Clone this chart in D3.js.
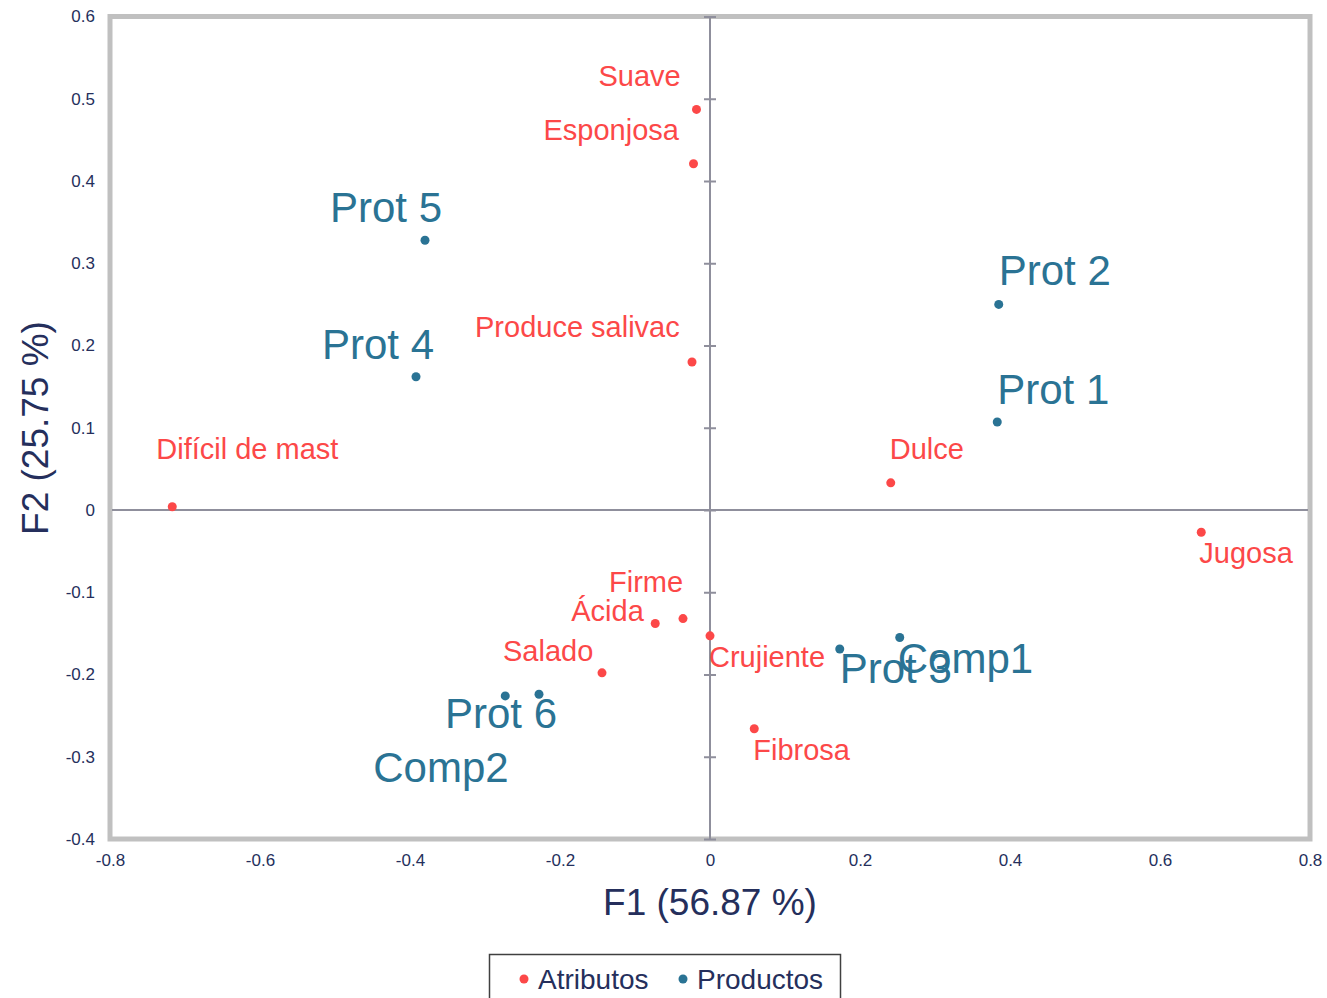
<!DOCTYPE html>
<html><head><meta charset="utf-8">
<script src="https://cdn.jsdelivr.net/npm/d3@7"></script>
<style>
html,body{margin:0;padding:0;background:#fff;}
svg{display:block;font-family:"Liberation Sans",Arial,sans-serif;}
</style></head>
<body><svg id="chart" width="1327" height="998"></svg>
<script>
// ---- data ----
const attrNames = ["Suave","Esponjosa","Produce salivac","Difícil de mast","Dulce","Jugosa","Firme","Ácida","Crujiente","Salado","Fibrosa"];
const attrF1 = [-0.018,-0.022,-0.024,-0.717,0.241,0.655,-0.036,-0.073,0.000,-0.144,0.059];
const attrF2 = [0.487,0.421,0.180,0.004,0.033,-0.027,-0.132,-0.138,-0.153,-0.198,-0.266];
const prodNames = ["Prot 5","Prot 4","Prot 2","Prot 1","Prot 3","Comp1","Prot 6","Comp2"];
const prodF1 = [-0.380,-0.392,0.385,0.383,0.173,0.253,-0.228,-0.273];
const prodF2 = [0.328,0.162,0.250,0.107,-0.169,-0.155,-0.224,-0.226];
const xTicks = [-0.8,-0.6,-0.4,-0.2,0,0.2,0.4,0.6,0.8];
const yTicks = [-0.4,-0.3,-0.2,-0.1,0,0.1,0.2,0.3,0.4,0.5,0.6];
const xTitle = "F1 (56.87 %)";
const yTitle = "F2 (25.75 %)";
const legendNames = ["Atributos","Productos"];

// ---- layout (label offsets in px from point) ----
const attrLabelOff = [[-98,-23],[-150,-24],[-217,-25],[-16,-48],[-1,-24],[-2,31],[-74,-27],[-84,-3],[-1,31],[-99,-12],[-1,31]];
const prodLabelOff = [[-95,-18],[-94,-18],[0,-19],[0,-18],[0,34],[-2,36],[-94,34],[-132,86]];

const RED = "#fc4848", BLUE = "#2a7394", NAVY = "#252f5c", AXIS = "#8f8f9c";
const fmt = d => String(+d.toFixed(1));

const svg = d3.select("#chart");
const x = d3.scaleLinear().domain([-0.8,0.8]).range([110,1310]);
const y = d3.scaleLinear().domain([-0.4,0.6]).range([839,16.5]);

// frame
svg.append("rect").attr("x",x(-0.8)).attr("y",y(0.6)).attr("width",x(0.8)-x(-0.8)).attr("height",y(-0.4)-y(0.6))
  .attr("fill","none").attr("stroke","#c0c0c0").attr("stroke-width",5);

// center axes
svg.append("line").attr("x1",x(-0.8)+2).attr("x2",x(0.8)-2).attr("y1",y(0)).attr("y2",y(0)).attr("stroke",AXIS).attr("stroke-width",2);
svg.append("line").attr("x1",x(0)).attr("x2",x(0)).attr("y1",y(0.6)).attr("y2",y(-0.4)).attr("stroke",AXIS).attr("stroke-width",2);
// ticks on vertical center axis
const yAxisG = svg.append("g").attr("transform",`translate(${x(0)},0)`)
  .call(d3.axisLeft(y).tickValues(yTicks).tickSizeInner(6).tickSizeOuter(0).tickFormat(""));
yAxisG.select(".domain").remove();
yAxisG.selectAll(".tick line").attr("x1",-6).attr("x2",6).attr("stroke",AXIS).attr("stroke-width",2);

// tick labels
const yLab = svg.append("g").attr("transform",`translate(${x(-0.8)},0)`)
  .call(d3.axisLeft(y).tickValues(yTicks).tickSize(0).tickPadding(15).tickFormat(fmt));
yLab.select(".domain").remove();
yLab.selectAll("text").attr("fill",NAVY).style("font-size","17px").style("font-family","Liberation Sans, Arial, sans-serif");

const xLab = svg.append("g").attr("transform",`translate(0,${y(-0.4)})`)
  .call(d3.axisBottom(x).tickValues(xTicks).tickSize(0).tickPadding(15).tickFormat(fmt));
xLab.select(".domain").remove();
xLab.selectAll("text").attr("fill",NAVY).style("font-size","17px").style("font-family","Liberation Sans, Arial, sans-serif");

// axis titles
svg.append("text").attr("x",710).attr("y",915).attr("text-anchor","middle").attr("fill",NAVY)
  .style("font-size","37px").text(xTitle);
svg.append("text").attr("transform","translate(48,428) rotate(-90)").attr("text-anchor","middle").attr("fill",NAVY)
  .style("font-size","37px").text(yTitle);

const attrs = attrNames.map((n,i)=>({n, fx:attrF1[i], fy:attrF2[i], off:attrLabelOff[i]}));
const prods = prodNames.map((n,i)=>({n, fx:prodF1[i], fy:prodF2[i], off:prodLabelOff[i]}));

svg.append("g").selectAll("circle").data(attrs).join("circle")
  .attr("cx",d=>x(d.fx)).attr("cy",d=>y(d.fy)).attr("r",4.5).attr("fill",RED);
svg.append("g").selectAll("circle").data(prods).join("circle")
  .attr("cx",d=>x(d.fx)).attr("cy",d=>y(d.fy)).attr("r",4.5).attr("fill",BLUE);

svg.append("g").selectAll("text").data(attrs).join("text")
  .attr("x",d=>x(d.fx)+d.off[0]).attr("y",d=>y(d.fy)+d.off[1]).attr("fill",RED)
  .style("font-size","29px").text(d=>d.n);
svg.append("g").selectAll("text").data(prods).join("text")
  .attr("x",d=>x(d.fx)+d.off[0]).attr("y",d=>y(d.fy)+d.off[1]).attr("fill",BLUE)
  .style("font-size","42px").text(d=>d.n);

// legend
const lg = svg.append("g");
lg.append("rect").attr("x",489.5).attr("y",954.5).attr("width",351).attr("height",60)
  .attr("fill","#fff").attr("stroke","#404040").attr("stroke-width",1.5);
const legColors = [RED, BLUE];
const legX = [524, 683];
legendNames.forEach((n,i)=>{
  lg.append("circle").attr("cx",legX[i]).attr("cy",979).attr("r",4.5).attr("fill",legColors[i]);
  lg.append("text").attr("x",legX[i]+14).attr("y",988.5).attr("fill",NAVY).style("font-size","28px").text(n);
});
</script>
</body></html>
